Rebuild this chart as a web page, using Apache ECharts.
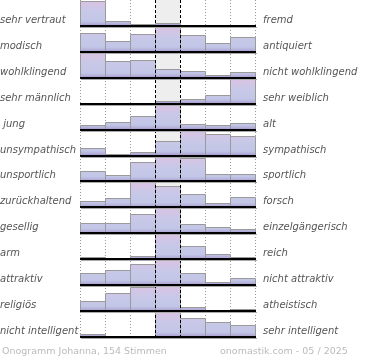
<!DOCTYPE html>
<html>
<head>
<meta charset="utf-8">
<script src="https://cdn.jsdelivr.net/npm/echarts@6/dist/echarts.min.js"></script>
<style>html,body{margin:0;padding:0;background:#fff}#c{width:370px;height:360px}</style>
</head>
<body>
<div id="c"></div>
<script>
const leftLabels = ['sehr vertraut','modisch','wohlklingend','sehr männlich',' jung','unsympathisch','unsportlich','zurückhaltend','gesellig','arm','attraktiv','religiös','nicht intelligent'];
const rightLabels = ['fremd','antiquiert','nicht wohlklingend','sehr weiblich','alt','sympathisch','sportlich','forsch','einzelgängerisch','reich','nicht attraktiv','atheistisch','sehr intelligent'];
const scalePositions = [1,2,3,4,5,6,7];
const votes = [
  [24, 5, 2.3, 3.3, 0, 0, 0],
  [19.3, 11, 18.3, 25, 16.7, 9, 15],
  [24, 15.7, 17, 8, 6.3, 3, 5.7],
  [0, 0, 0, 2.7, 4.7, 9, 25],
  [4.3, 7.7, 13.3, 25, 6, 4.3, 6.7],
  [7.3, 1.7, 3.3, 14, 24, 21, 19],
  [10, 5.7, 19, 23.7, 22.7, 7.3, 7.3],
  [6.3, 9, 24.7, 21.3, 13.7, 4.7, 10.7],
  [10.7, 10.7, 19, 25, 9, 6, 4],
  [2.3, 0, 3.3, 24.7, 13.3, 5, 2.3],
  [12.7, 15.7, 21.7, 25, 12.7, 2.7, 6.7],
  [10, 18.3, 24.3, 24.7, 4.3, 0, 1.7],
  [3.3, 0, 1.3, 25, 19.3, 15, 12]
];
const footerLeft = 'Onogramm Johanna, 154 Stimmen';
const footerRight = 'onomastik.com - 05 / 2025';

const nRows = leftLabels.length, nCols = scalePositions.length;
const barData = [];
votes.forEach((row, r) => {
  const mx = Math.max(...row);
  row.forEach((v, c) => barData.push([c, r, v, mx]));
});
const rowIdx = leftLabels.map((_, i) => [i]);
const colIdx = [];
for (let i = 0; i <= nCols; i++) colIdx.push([i]);

const chart = echarts.init(document.getElementById('c'), null, {renderer: 'canvas'});
const labelFont = 'italic 10px "DejaVu Sans"';
chart.setOption({
  animation: false,
  grid: {left: 80, top: -1, width: 175, height: 338},
  xAxis: {type: 'value', min: 0, max: nCols, show: false},
  yAxis: {type: 'value', min: 0, max: nRows, inverse: true, show: false},
  series: [
    { // middle column background
      type: 'custom', z: 1, data: [[3]],
      renderItem(params, api) {
        const a = api.coord([api.value(0), 0]), b = api.coord([api.value(0) + 1, nRows]);
        return {type: 'rect', shape: {x: a[0], y: a[1], width: b[0] - a[0], height: b[1] - a[1]}, style: {fill: '#eeeeee'}};
      }
    },
    { // dotted verticals
      type: 'custom', z: 2, data: colIdx,
      renderItem(params, api) {
        const c = api.value(0);
        if (c === 3 || c === 4) return null;
        const a = api.coord([c, 0]), b = api.coord([c, nRows]);
        const x = Math.round(a[0]) + 0.5;
        return {type: 'line', shape: {x1: x, y1: a[1], x2: x, y2: b[1]}, style: {stroke: '#999', lineWidth: 1, lineDash: [1, 2]}};
      }
    },
    { // bars
      type: 'custom', z: 3, data: barData,
      renderItem(params, api) {
        const c = api.value(0), r = api.value(1), v = api.value(2), mx = api.value(3);
        if (!v) return null;
        const p0 = api.coord([c, r + 1]), p1 = api.coord([c + 1, r]);
        const rowH = p0[1] - p1[1];
        const h = v / mx * rowH * 0.96;
        const fill = new echarts.graphic.LinearGradient(0, p1[1], 0, p0[1], [
          {offset: 0, color: '#dcc2e2'},
          {offset: 0.45, color: '#c8c8e8'},
          {offset: 0.82, color: '#c2c6e6'},
          {offset: 0.92, color: '#b4b0da'},
          {offset: 1, color: '#a494c8'}
        ], true);
        return {type: 'rect', shape: {x: Math.round(p0[0]) + 0.5, y: Math.round(p0[1] - h) + 0.5, width: Math.round(p1[0] - p0[0]), height: Math.round(h)},
          style: {fill: fill, stroke: '#9a9a9a', lineWidth: 1}};
      }
    },
    { // dashed verticals for middle column
      type: 'custom', z: 4, data: [[3], [4]],
      renderItem(params, api) {
        const c = api.value(0);
        const a = api.coord([c, 0]), b = api.coord([c, nRows]);
        const x = Math.round(a[0]) + 0.5;
        return {type: 'line', shape: {x1: x, y1: a[1], x2: x, y2: b[1]}, style: {stroke: '#000', lineWidth: 1, lineDash: [3, 2]}};
      }
    },
    { // baselines and labels
      type: 'custom', z: 5, data: rowIdx,
      renderItem(params, api) {
        const r = api.value(0);
        const a = api.coord([0, r + 1]), b = api.coord([nCols, r + 1]);
        const y = Math.round(a[1]);
        return {type: 'group', children: [
          {type: 'line', shape: {x1: a[0] + 1, y1: y + 1.5, x2: b[0] + 2, y2: y + 1.5}, style: {stroke: '#aaa', lineWidth: 1}},
          {type: 'line', shape: {x1: a[0], y1: y, x2: b[0] + 1, y2: y}, style: {stroke: '#000', lineWidth: 2}},
          {type: 'text', x: 0, y: y - 5.5, style: {text: leftLabels[r], font: labelFont, fill: '#555', textAlign: 'left', textVerticalAlign: 'middle'}},
          {type: 'text', x: b[0] + 8, y: y - 5.5, style: {text: rightLabels[r], font: labelFont, fill: '#555', textAlign: 'left', textVerticalAlign: 'middle'}}
        ]};
      }
    }
  ],
  graphic: [
    {type: 'text', left: 2, top: 347, style: {text: footerLeft, font: '9.5px "DejaVu Sans"', fill: '#bbb'}},
    {type: 'text', left: 220, top: 347, style: {text: footerRight, font: '9.5px "DejaVu Sans"', fill: '#bbb'}}
  ]
});
</script>
</body>
</html>
